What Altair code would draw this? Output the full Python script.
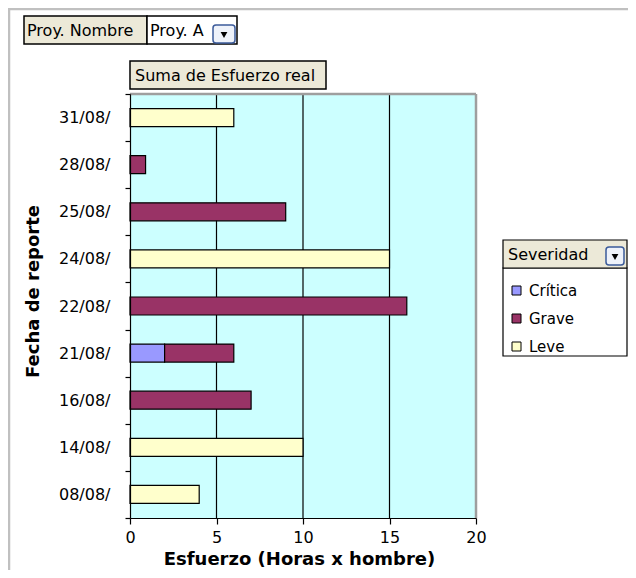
import altair as alt
import pandas as pd

# ---- data ----
fechas = ["31/08/", "28/08/", "25/08/", "24/08/", "22/08/", "21/08/", "21/08/", "16/08/", "14/08/", "08/08/"]
severidades = ["Leve", "Grave", "Grave", "Leve", "Grave", "Crítica", "Grave", "Grave", "Leve", "Leve"]
esfuerzo = [6, 0.9, 9, 15, 16, 2, 4, 7, 10, 4]

orden_fechas = ["31/08/", "28/08/", "25/08/", "24/08/", "22/08/", "21/08/", "16/08/", "14/08/", "08/08/"]
categorias = ["Crítica", "Grave", "Leve"]
colores = ["#9999FF", "#993366", "#FFFFCC"]
x_ticks = [0, 5, 10, 15, 20]
grid_values = [5, 10, 15]

df = pd.DataFrame({"fecha": fechas, "severidad": severidades, "esfuerzo": esfuerzo})
df["orden"] = df["severidad"].map({c: i for i, c in enumerate(categorias)})

FONT = "DejaVu Sans"
W, H = 346, 424
BEIGE = "#ECE9D8"

x_enc = alt.X(
    "esfuerzo:Q", stack="zero",
    scale=alt.Scale(domain=[0, 20], nice=False),
    axis=alt.Axis(
        values=x_ticks, title="Esfuerzo (Horas x hombre)", grid=False, zindex=1,
        domainColor="black", domainWidth=1.2, tickColor="black", tickSize=6, tickWidth=1.2,
        labelFont=FONT, labelFontSize=16, labelColor="black", labelPadding=5, labelFlush=False,
        titleFont=FONT, titleFontSize=18, titleFontWeight="bold", titleColor="black",
        titleX=169, titleY=46, titleBaseline="alphabetic", titleAlign="center",
    ),
)

bars = alt.Chart(df).mark_bar(size=18, stroke="black", strokeWidth=1.2).encode(
    x=x_enc,
    y=alt.Y(
        "fecha:N", sort=orden_fechas,
        scale=alt.Scale(paddingInner=0, paddingOuter=0),
        axis=alt.Axis(
            title="Fecha de reporte", tickBand="extent", grid=False, zindex=1,
            domainColor="black", domainWidth=1.2, tickColor="black", tickSize=5, tickWidth=1.2,
            labelFont=FONT, labelFontSize=16, labelColor="black", labelPadding=15,
            titleFont=FONT, titleFontSize=18, titleFontWeight="bold", titleColor="black",
            titleX=-97, titleY=197, titleAngle=270, titleAlign="center", titleBaseline="middle",
        ),
    ),
    color=alt.Color(
        "severidad:N",
        scale=alt.Scale(domain=categorias, range=colores),
        legend=alt.Legend(
            orient="none", legendX=379, legendY=189, title=None, padding=0,
            symbolType="square", symbolSize=81, symbolStrokeColor="black",
            symbolStrokeWidth=1, symbolOpacity=1,
            labelFont=FONT, labelFontSize=15, labelColor="black",
            labelOffset=5, rowPadding=12,
        ),
    ),
    order=alt.Order("orden:Q"),
)

grid = alt.Chart(pd.DataFrame({"esfuerzo": grid_values})).mark_rule(
    color="black", strokeWidth=1.2
).encode(x=alt.X("esfuerzo:Q"))

one = pd.DataFrame({"k": [0]})


def rect(x, x2, y, y2, fill, stroke="black", sw=1.0, cr=0):
    return alt.Chart(one).mark_rect(
        fill=fill, stroke=stroke, strokeWidth=sw, cornerRadius=cr
    ).encode(x=alt.value(x), x2=alt.value(x2), y=alt.value(y), y2=alt.value(y2))


def rule(x, x2, y, y2, color, sw):
    return alt.Chart(one).mark_rule(color=color, strokeWidth=sw).encode(
        x=alt.value(x), x2=alt.value(x2), y=alt.value(y), y2=alt.value(y2)
    )


def label(txt, x, y, size=16, weight="normal", align="left"):
    return alt.Chart(one).mark_text(
        text=txt, font=FONT, fontSize=size, fontWeight=weight, align=align,
        baseline="middle", color="black"
    ).encode(x=alt.value(x), y=alt.value(y))


def dropdown(x, x2, y, y2):
    btn = rect(x, x2, y, y2, "#EEF2FA", stroke="#3B5B9A", sw=1.5, cr=3)
    tri = alt.Chart(one).mark_point(
        shape="triangle-down", filled=True, color="black", size=45, opacity=1
    ).encode(x=alt.value((x + x2) / 2), y=alt.value((y + y2) / 2 + 1))
    return [btn, tri]


background = rect(0, W, 0, H, "#CCFFFF", stroke="#CCFFFF", sw=0)

decor = [
    # plot frame (gray top & right)
    rule(0, W, 0, 0, "#9E9E9E", 2.5),
    rule(W, W, 0, H, "#9E9E9E", 2.5),
    # outer gray frame lines
    rule(-122, 500, -85, -85, "#C0C0C0", 2.5),
    rule(-121, -121, -86, 480, "#C0C0C0", 2.5),
    # page field
    rect(-106, 17, -78, -50, BEIGE, sw=1.5),
    label("Proy. Nombre", -103, -63),
    rect(17, 107, -78, -50, "white", sw=1.5),
    label("Proy. A", 20, -63),
    *dropdown(83, 105, -69, -51),
    # data field
    rect(0, 196, -33, -5, BEIGE, sw=1.5),
    label("Suma de Esfuerzo real", 5, -18),
    # legend boxes
    rect(373, 497, 174, 262, "white", sw=1.2),
    rect(373, 497, 146, 174, BEIGE, sw=1.2),
    label("Severidad", 378, 161),
    *dropdown(476, 494, 153, 171),
]

chart = alt.layer(background, grid, bars, *decor).properties(
    width=W, height=H,
    padding={"left": 122, "top": 86, "right": 152, "bottom": 52},
    autosize=alt.AutoSizeParams(type="none"),
).configure_view(stroke="transparent").configure(background="white")

chart.save("out.html", embed_options={"renderer": "svg", "actions": False})
